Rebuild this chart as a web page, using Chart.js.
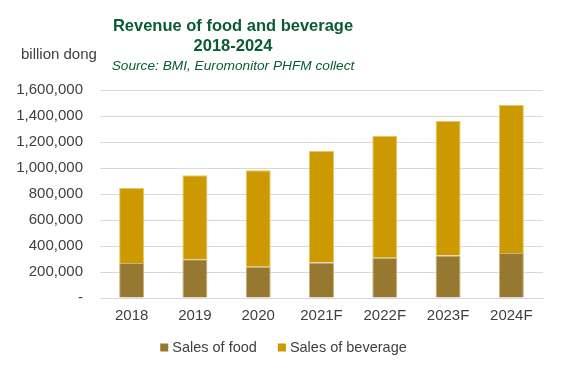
<!DOCTYPE html>
<html>
<head>
<meta charset="utf-8">
<script src="https://cdn.jsdelivr.net/npm/chart.js@4.4.0/dist/chart.umd.min.js"></script>
<style>
    html, body{ margin: 0; padding: 0; background: #ffffff; }
    #wrap{ width: 569px; height: 373px; position: relative; }
</style>
</head>
<body>
<div id="wrap"><canvas id="grafico"></canvas></div>
<script>
//Data
    var years = ["2018", "2019", "2020", "2021F", "2022F", "2023F", "2024F"];
    var food = [269000, 298000, 241000, 274000, 310000, 326000, 346000];
    var beverage = [577000, 646000, 741000, 857000, 939000, 1036000, 1139000];
    var seriesNames = ["Sales of food", "Sales of beverage"];
    var seriesColors = ["#967830", "#cc9900"];
    var titleLines = ["Revenue of food and beverage", "2018-2024"];
    var sourceText = "Source: BMI, Euromonitor PHFM collect";
    var unitText = "billion dong";

//Fonts and colours
    var fam = "'Liberation Sans', Arial, sans-serif";
    var green = "#0b5b33";
    var grey = "#404040";

//Plugin for header texts and legend (title is not centred on the canvas)
    var header = {
        id: "header",
        afterDraw: function(chart){
            var ctx = chart.ctx;
            ctx.save();
            ctx.textBaseline = "middle";
            //Title
                ctx.textAlign = "center";
                ctx.fillStyle = green;
                ctx.font = "bold 16.5px " + fam;
                ctx.fillText(titleLines[0], 233, 26);
                ctx.fillText(titleLines[1], 233, 46);
                ctx.font = "italic 13.7px " + fam;
                ctx.fillText(sourceText, 233, 66);
            //Unit
                ctx.textAlign = "left";
                ctx.fillStyle = grey;
                ctx.font = "15px " + fam;
                ctx.fillText(unitText, 21, 55);
            //Legend
                ctx.font = "14.5px " + fam;
                var box = 8, gap = 4, space = 21;
                var widths = seriesNames.map(function(n){ return ctx.measureText(n).width; });
                var total = 0;
                for(var a = 0; a < widths.length; a++){
                    total += box + gap + widths[a];
                    if(a < widths.length - 1) total += space;
                }
                var x = 283.5 - total / 2;
                var y = 347.5;
                chart.data.datasets.forEach(function(ds, i){
                    ctx.fillStyle = ds.backgroundColor;
                    ctx.fillRect(x, y - box / 2, box, box);
                    ctx.fillStyle = grey;
                    ctx.fillText(ds.label, x + box + gap, y);
                    x += box + gap + widths[i] + space;
                });
            ctx.restore();
        }
    };

//Chart
    var c_rev = new Chart(document.getElementById("grafico"), {
        type: "bar",
        data: {
            labels: years,
            datasets: [
                {
                    label: seriesNames[0], data: food,
                    backgroundColor: seriesColors[0], borderColor: "#c9b27a", borderWidth: 1
                },
                {
                    label: seriesNames[1], data: beverage,
                    backgroundColor: seriesColors[1], borderColor: "#e6c860", borderWidth: 1
                }
            ]
        },
        options: {
            responsive: true,
            maintainAspectRatio: false,
            animation: false,
            layout: { padding: { top: 90, right: 26, left: 0, bottom: 39 } },
            datasets: { bar: { categoryPercentage: 1, barPercentage: 0.395 } },
            scales: {
                x: {
                    stacked: true,
                    grid: { display: false, drawTicks: false },
                    border: { display: true, color: "#d9d9d9", width: 1 },
                    ticks: { color: grey, font: { family: fam, size: 15 }, padding: 9 }
                },
                y: {
                    stacked: true,
                    min: 0, max: 1600000,
                    afterFit: function(s){ s.width = 100; },
                    grid: { color: "#d9d9d9", lineWidth: 1, drawTicks: false },
                    border: { display: false },
                    ticks: {
                        stepSize: 200000, padding: 17, color: grey,
                        font: { family: fam, size: 15 },
                        callback: function(v){ return v === 0 ? "-" : v.toLocaleString("en-US"); }
                    }
                }
            },
            plugins: {
                legend: { display: false },
                tooltip: { enabled: false }
            }
        },
        plugins: [header]
    });
</script>
</body>
</html>
